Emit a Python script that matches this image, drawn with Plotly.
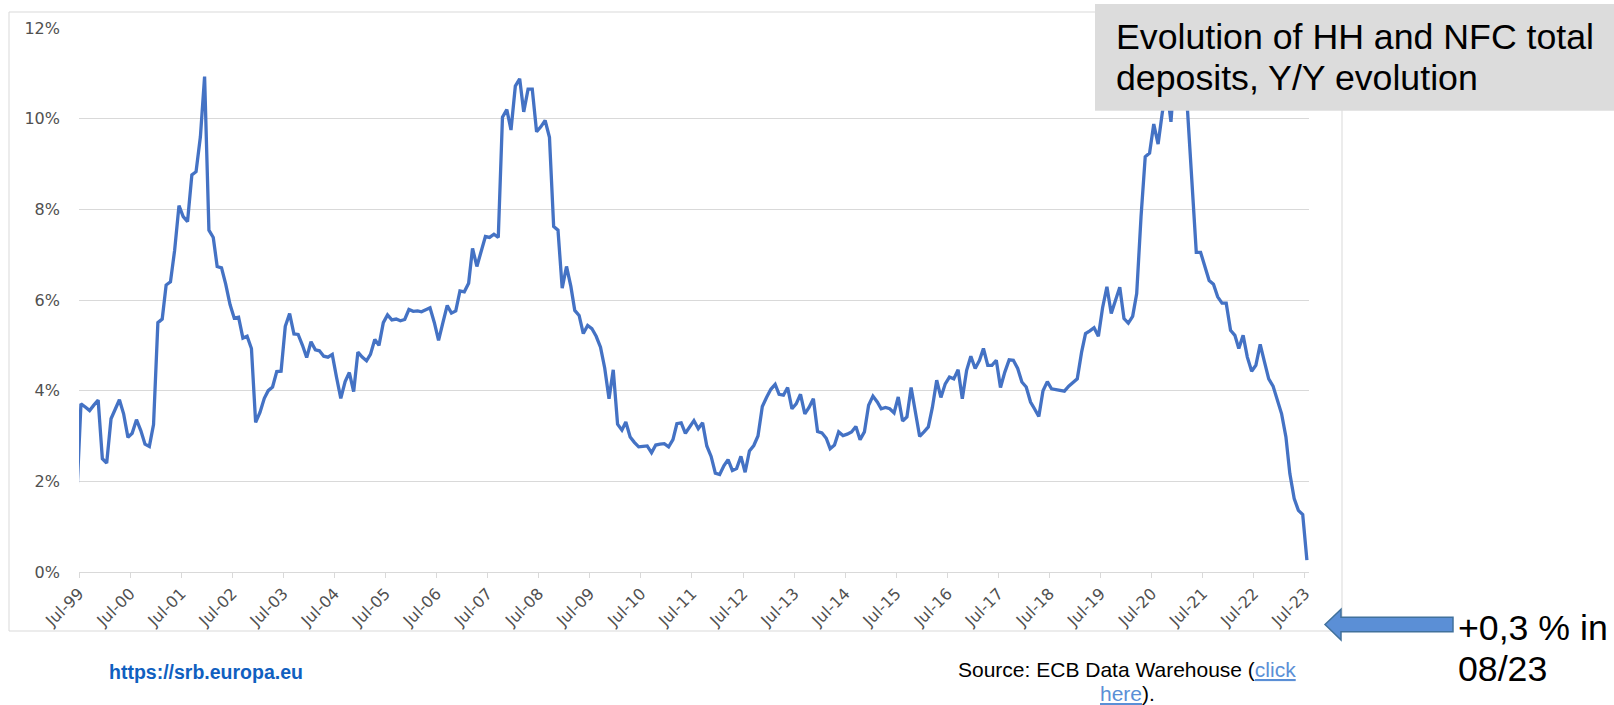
import pandas as pd
import plotly.graph_objects as go

# Monthly Y/Y growth of HH + NFC total deposits (%), Jun-99 .. Jul-23 (mid-month points)
start_month = "1999-06-01"
growth_pct = [
    1.65,
    3.71, 3.64, 3.56, 3.68, 3.79, 2.5, 2.4, 3.38, 3.6, 3.8, 3.49, 2.97,
    3.06, 3.36, 3.12, 2.82, 2.77, 3.25, 5.5, 5.58, 6.33, 6.4, 7.1, 8.08,
    7.84, 7.73, 8.76, 8.83, 9.6, 10.93, 7.54, 7.38, 6.74, 6.71, 6.35, 5.9,
    5.6, 5.62, 5.16, 5.2, 4.93, 3.3, 3.52, 3.83, 4.0, 4.08, 4.42, 4.43,
    5.42, 5.7, 5.25, 5.24, 5.0, 4.73, 5.08, 4.9, 4.88, 4.76, 4.74, 4.8,
    4.3, 3.83, 4.2, 4.4, 3.98, 4.85, 4.74, 4.66, 4.8, 5.13, 5.0, 5.5,
    5.67, 5.56, 5.58, 5.54, 5.57, 5.79, 5.75, 5.76, 5.74, 5.78, 5.83, 5.5,
    5.11, 5.5, 5.88, 5.71, 5.76, 6.2, 6.18, 6.37, 7.14, 6.74, 7.05, 7.4,
    7.38, 7.45, 7.38, 10.03, 10.2, 9.75, 10.72, 10.88, 10.15, 10.65, 10.65, 9.71,
    9.82, 9.96, 9.59, 7.62, 7.54, 6.26, 6.74, 6.3, 5.77, 5.66, 5.26, 5.44,
    5.37, 5.2, 4.96, 4.5, 3.82, 4.46, 3.26, 3.13, 3.31, 2.98, 2.86, 2.76,
    2.77, 2.78, 2.63, 2.8, 2.82, 2.83, 2.76, 2.92, 3.27, 3.29, 3.06, 3.22,
    3.34, 3.16, 3.29, 2.78, 2.55, 2.18, 2.15, 2.35, 2.48, 2.24, 2.28, 2.55,
    2.2, 2.67, 2.79, 3.0, 3.65, 3.85, 4.03, 4.14, 3.92, 3.9, 4.07, 3.6,
    3.71, 3.92, 3.49, 3.63, 3.82, 3.1, 3.07, 2.95, 2.72, 2.8, 3.09, 3.01,
    3.04, 3.09, 3.21, 2.92, 3.09, 3.68, 3.88, 3.75, 3.6, 3.63, 3.6, 3.51,
    3.86, 3.33, 3.42, 4.07, 3.53, 2.99, 3.09, 3.2, 3.63, 4.23, 3.85, 4.15,
    4.3, 4.26, 4.46, 3.82, 4.45, 4.76, 4.49, 4.67, 4.93, 4.56, 4.56, 4.67,
    4.07, 4.41, 4.68, 4.67, 4.49, 4.19, 4.08, 3.75, 3.6, 3.43, 4.0, 4.2,
    4.04, 4.02, 4.0, 3.99, 4.1, 4.19, 4.26, 4.85, 5.26, 5.32, 5.39, 5.2,
    5.83, 6.29, 5.7, 5.99, 6.28, 5.59, 5.49, 5.64, 6.14, 7.84, 9.16, 9.24,
    9.88, 9.44, 10.15, 10.7, 9.93, 11.2, 11.7, 11.5, 10.0, 8.5, 7.05, 7.05,
    6.72, 6.43, 6.35, 6.07, 5.93, 5.93, 5.33, 5.22, 4.93, 5.22, 4.74, 4.43,
    4.56, 5.02, 4.63, 4.26, 4.1, 3.79, 3.49, 2.98, 2.17, 1.62, 1.36, 1.27,
    0.26,
]
y_ticks = [0, 2, 4, 6, 8, 10, 12]
y_tick_labels = ["0%", "2%", "4%", "6%", "8%", "10%", "12%"]
x_range = ["1999-07-01", "2023-07-30"]

title_lines = ["Evolution of HH and NFC total", "deposits, Y/Y evolution"]
callout_lines = ["+0,3 % in", "08/23"]
url_text = "https://srb.europa.eu"

months = pd.date_range(start_month, periods=len(growth_pct), freq="MS") + pd.Timedelta(days=14)

W, H = 1614, 705
L, R, T, B = 79, 305, 28, 133
PW, PH = W - L - R, H - T - B


def fx(px):
    return (px - L) / PW


def fy(py):
    return (H - B - py) / PH


LABEL_FONT = dict(family="DejaVu Sans", size=16, color="#505050")
ARIAL = "Liberation Sans, Arial, sans-serif"
GRID = "#d9d9d9"

fig = go.Figure()
fig.add_trace(go.Scatter(
    x=months, y=growth_pct, mode="lines",
    line=dict(color="#4472c4", width=3.3), hoverinfo="skip", showlegend=False,
))

fig.update_layout(
    width=W, height=H, autosize=False,
    margin=dict(l=L, r=R, t=T, b=B, pad=0),
    paper_bgcolor="white", plot_bgcolor="white",
    xaxis=dict(
        type="date", range=x_range, tick0="1999-07-01", dtick="M12",
        tickformat="%b-%y", tickangle=-45, tickfont=LABEL_FONT,
        showgrid=False, showline=True, linecolor=GRID, linewidth=1,
        ticks="outside", ticklen=5, tickcolor=GRID, zeroline=False,
    ),
    yaxis=dict(
        range=[0, 12], tickmode="array", tickvals=y_ticks, ticktext=y_tick_labels,
        tickfont=LABEL_FONT,
        showgrid=True, gridcolor=GRID, gridwidth=1, zeroline=False,
        showline=False, ticks="", ticklabelstandoff=18,
    ),
)

shapes = [
    dict(type="rect", xref="paper", yref="paper", x0=fx(9), x1=fx(1342), y0=fy(631), y1=fy(12),
         line=dict(color=GRID, width=1), fillcolor="rgba(0,0,0,0)", layer="below"),
    dict(type="rect", xref="paper", yref="paper", x0=fx(1095), x1=fx(1630), y0=fy(110.7), y1=fy(4),
         line=dict(width=0), fillcolor="#dcdcdc", layer="above"),
]
arrow_pts = [(1325, 624.5), (1341, 609.3), (1341, 617.3), (1453, 617.3), (1453, 631.7),
             (1341, 631.7), (1341, 640)]
path = "M " + " L ".join(f"{fx(a):.5f},{fy(b):.5f}" for a, b in arrow_pts) + " Z"
shapes.append(dict(type="path", xref="paper", yref="paper", path=path,
                   fillcolor="#5b8fd6", line=dict(color="#41719c", width=1.5), layer="above"))
fig.update_layout(shapes=shapes)


def note(text, px, py, size, color="black", xanchor="left", bold=False):
    fig.add_annotation(
        text=f"<b>{text}</b>" if bold else text, xref="paper", yref="paper",
        x=fx(px), y=fy(py), xanchor=xanchor, yanchor="middle", showarrow=False,
        font=dict(family=ARIAL, size=size, color=color), borderpad=0, borderwidth=0,
    )


TS = 35.7
note(title_lines[0], 1116, 49.3 - 0.35 * TS, TS)
note(title_lines[1], 1116, 90.7 - 0.35 * TS, TS)
note(callout_lines[0], 1458, 640 - 0.35 * TS, TS)
note(callout_lines[1], 1458, 681.7 - 0.35 * TS, TS)
note(url_text, 109, 679 - 0.35 * 19.5, 19.5, color="#1060c0", bold=True)
link = "<span style='color:#5b8fd6'><u>{}</u></span>"
note("Source: ECB Data Warehouse (" + link.format("click"), 1127, 676.7 - 0.35 * 21, 21, xanchor="center")
note(link.format("here") + ").", 1127, 701 - 0.35 * 21, 21, xanchor="center")

fig.write_html("out.html")
